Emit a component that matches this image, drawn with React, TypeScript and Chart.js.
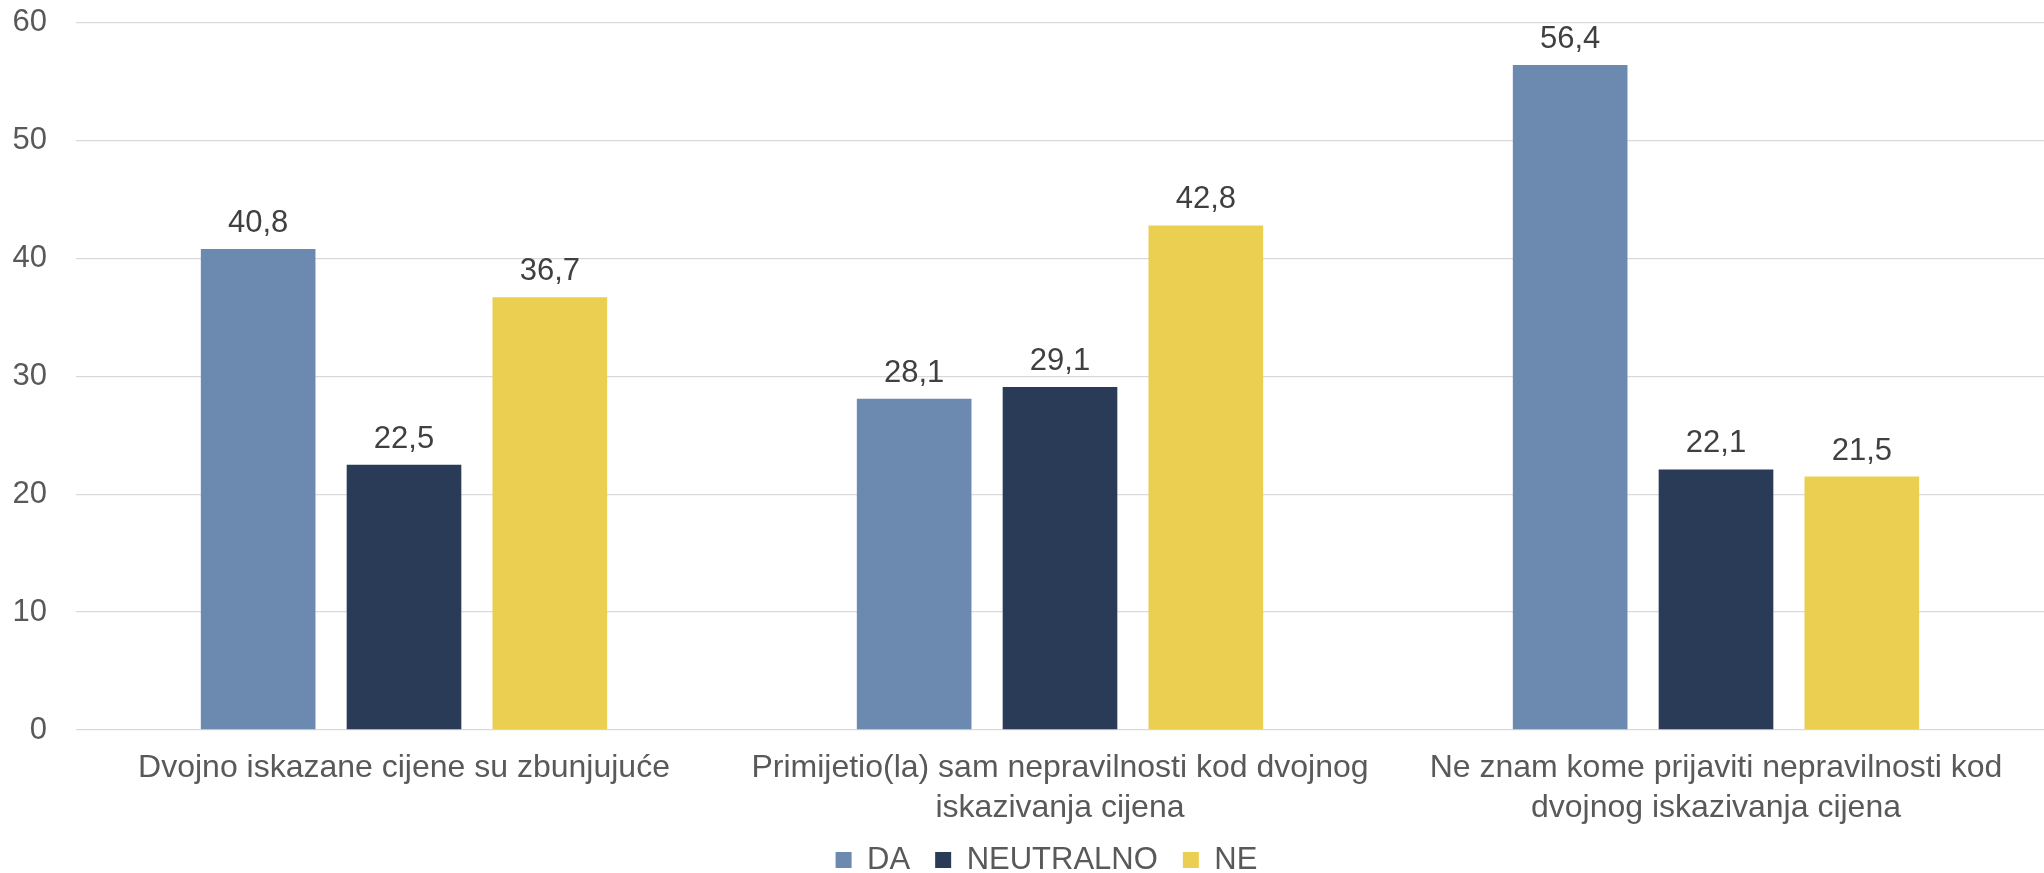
import React, { useEffect, useRef } from "react";
import { Chart, registerables } from "chart.js";

Chart.register(...registerables);

const categories: string[][] = [
  ["Dvojno iskazane cijene su zbunjujuće"],
  ["Primijetio(la) sam nepravilnosti kod dvojnog", "iskazivanja cijena"],
  ["Ne znam kome prijaviti nepravilnosti kod", "dvojnog iskazivanja cijena"],
];
const seriesNames = ["DA", "NEUTRALNO", "NE"];
const daValues = [40.8, 28.1, 56.4];
const neutralnoValues = [22.5, 29.1, 22.1];
const neValues = [36.7, 42.8, 21.5];
const seriesColors = ["#6C89AF", "#293B56", "#EBCF50"];
const yMin = 0;
const yMax = 60;
const yStep = 10;

const FONT = "'Liberation Sans', Arial, Helvetica, sans-serif";

const valueLabels = {
  id: "valueLabels",
  afterDatasetsDraw(chart: any) {
    const ctx = chart.ctx;
    ctx.save();
    ctx.font = `31px ${FONT}`;
    ctx.fillStyle = "#404040";
    ctx.textAlign = "center";
    ctx.textBaseline = "alphabetic";
    chart.data.datasets.forEach((ds: any, di: number) => {
      const meta = chart.getDatasetMeta(di);
      meta.data.forEach((el: any, i: number) => {
        const v = ds.data[i] as number;
        ctx.fillText(v.toFixed(1).replace(".", ","), el.x, el.y - 17);
      });
    });
    ctx.restore();
  },
};

const shiftLegend = {
  id: "shiftLegend",
  afterLayout(chart: any) {
    const lg = chart.legend;
    if (lg) {
      lg.left += 23;
      lg.right += 23;
      lg.top -= 26.5;
      lg.bottom -= 26.5;
    }
  },
};

export default function App() {
  const ref = useRef<HTMLCanvasElement | null>(null);

  useEffect(() => {
    document.body.style.margin = "0";
    const canvas = ref.current;
    if (!canvas) return;
    const chart = new Chart(canvas, {
      type: "bar",
      data: {
        labels: categories,
        datasets: [
          { label: seriesNames[0], data: daValues, backgroundColor: seriesColors[0] },
          { label: seriesNames[1], data: neutralnoValues, backgroundColor: seriesColors[1] },
          { label: seriesNames[2], data: neValues, backgroundColor: seriesColors[2] },
        ],
      },
      options: {
        responsive: false,
        animation: false,
        devicePixelRatio: 1,
        datasets: {
          bar: {
            categoryPercentage: 0.667,
            barPercentage: 0.786,
          },
        },
        layout: { padding: { left: 0, top: 0, right: -3, bottom: -39 } },
        plugins: {
          tooltip: { enabled: false },
          legend: {
            position: "bottom",
            labels: {
              boxWidth: 16,
              boxHeight: 16,
              padding: 25,
              color: "#595959",
              font: { family: FONT, size: 31 },
            },
          },
        },
        scales: {
          x: {
            grid: { display: false, drawTicks: false },
            border: { display: false },
            ticks: {
              color: "#595959",
              font: { family: FONT, size: 32, lineHeight: 1.25 },
              padding: 18,
              maxRotation: 0,
              autoSkip: false,
            },
          },
          y: {
            min: yMin,
            max: yMax,
            afterFit(scale: any) {
              scale.width = 76;
            },
            grid: {
              color: "#D9D9D9",
              lineWidth: 1.33,
              drawTicks: true,
              tickLength: 25,
              tickColor: "rgba(0,0,0,0)",
            },
            border: { display: false },
            ticks: {
              stepSize: yStep,
              color: "#595959",
              font: { family: FONT, size: 31 },
              padding: 4,
            },
          },
        },
      },
      plugins: [valueLabels, shiftLegend],
    });
    return () => chart.destroy();
  }, []);

  return (
    <div style={{ width: 2044, height: 873 }}>
      <canvas ref={ref} width={2044} height={873} style={{ display: "block" }} />
    </div>
  );
}
